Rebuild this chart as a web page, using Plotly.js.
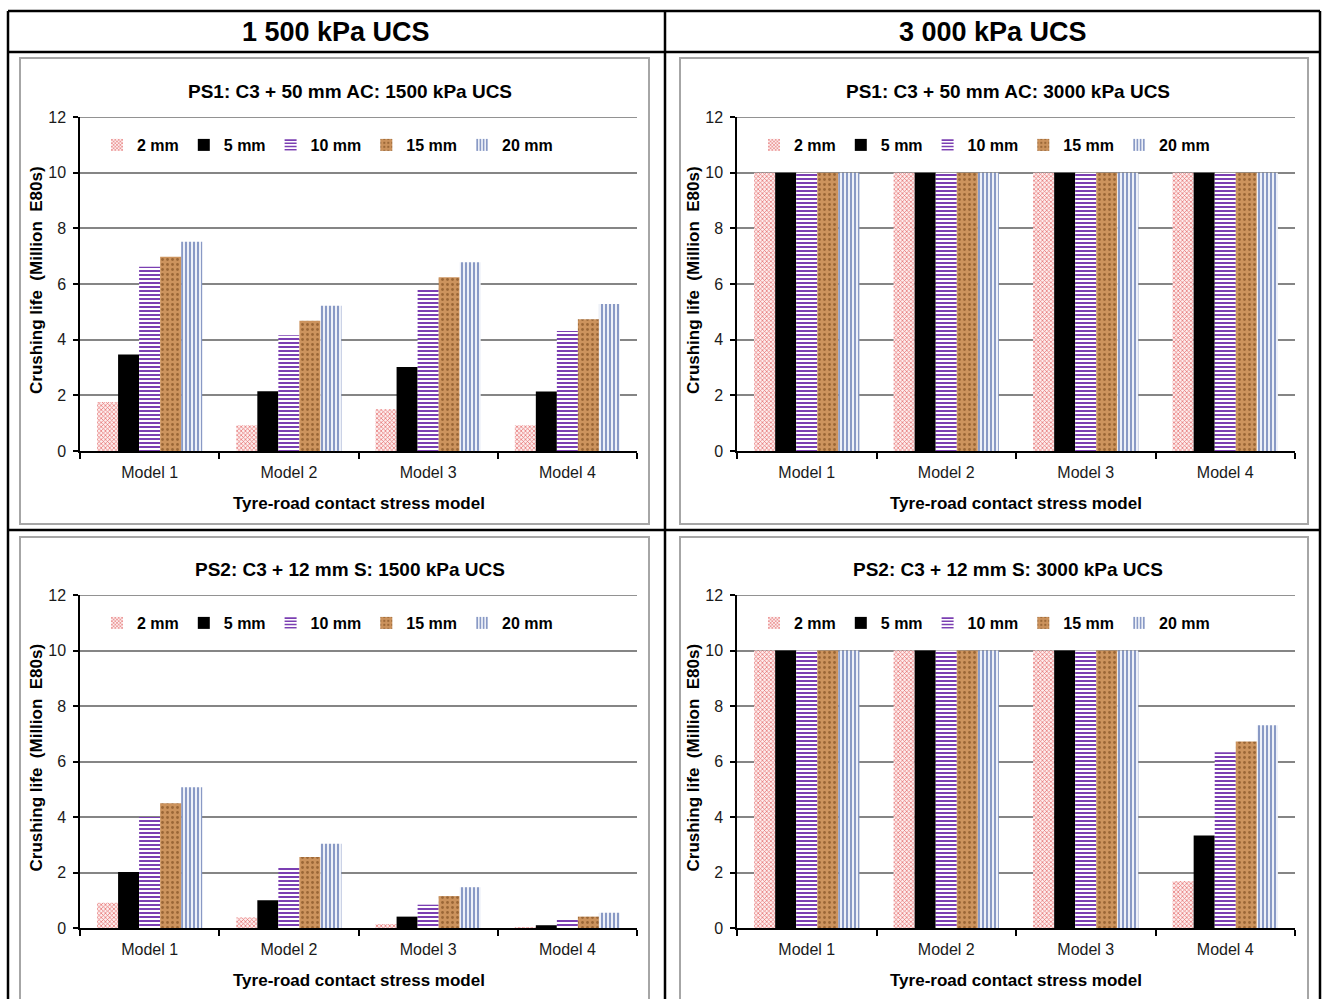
<!DOCTYPE html>
<html>
<head>
<meta charset="utf-8">
<script src="https://cdn.plot.ly/plotly-3.0.1.min.js"></script>
<style>
  html, body { margin: 0; padding: 0; background: #ffffff; }
  #chart { width: 1324px; height: 999px; }
</style>
</head>
<body>
<div id="chart"></div>
<script>
// Tyre-road contact stress models (categories)
const models = ['Model 1', 'Model 2', 'Model 3', 'Model 4'];
// Crushing-depth series
const seriesNames = ['2 mm', '5 mm', '10 mm', '15 mm', '20 mm'];
const yTicks = [0, 2, 4, 6, 8, 10, 12];

// PS1: C3 + 50 mm AC, 1500 kPa UCS  (million E80s)
const ps1_1500_2mm  = [1.76, 0.92, 1.50, 0.92];
const ps1_1500_5mm  = [3.47, 2.15, 3.02, 2.14];
const ps1_1500_10mm = [6.62, 4.16, 5.78, 4.31];
const ps1_1500_15mm = [6.98, 4.68, 6.24, 4.73];
const ps1_1500_20mm = [7.52, 5.22, 6.78, 5.28];

// PS1: C3 + 50 mm AC, 3000 kPa UCS
const ps1_3000_2mm  = [10, 10, 10, 10];
const ps1_3000_5mm  = [10, 10, 10, 10];
const ps1_3000_10mm = [10, 10, 10, 10];
const ps1_3000_15mm = [10, 10, 10, 10];
const ps1_3000_20mm = [10, 10, 10, 10];

// PS2: C3 + 12 mm S, 1500 kPa UCS
const ps2_1500_2mm  = [0.91, 0.38, 0.14, 0.02];
const ps2_1500_5mm  = [2.02, 1.00, 0.41, 0.10];
const ps2_1500_10mm = [4.00, 2.18, 0.84, 0.29];
const ps2_1500_15mm = [4.50, 2.56, 1.15, 0.41];
const ps2_1500_20mm = [5.07, 3.04, 1.47, 0.55];

// PS2: C3 + 12 mm S, 3000 kPa UCS
const ps2_3000_2mm  = [10, 10, 10, 1.69];
const ps2_3000_5mm  = [10, 10, 10, 3.33];
const ps2_3000_10mm = [10, 10, 10, 6.33];
const ps2_3000_15mm = [10, 10, 10, 6.72];
const ps2_3000_20mm = [10, 10, 10, 7.31];

// Column headers and chart titles
const columnHeaders = ['1 500 kPa UCS', '3 000 kPa UCS'];
const chartTitles = [
  'PS1: C3 + 50 mm AC: 1500 kPa UCS',
  'PS1: C3 + 50 mm AC: 3000 kPa UCS',
  'PS2: C3 + 12 mm S: 1500 kPa UCS',
  'PS2: C3 + 12 mm S: 3000 kPa UCS'
];
const xTitle = 'Tyre-road contact stress model';
const yTitle = 'Crushing life  (Million  E80s)';

const chartData = [
  [ps1_1500_2mm, ps1_1500_5mm, ps1_1500_10mm, ps1_1500_15mm, ps1_1500_20mm],
  [ps1_3000_2mm, ps1_3000_5mm, ps1_3000_10mm, ps1_3000_15mm, ps1_3000_20mm],
  [ps2_1500_2mm, ps2_1500_5mm, ps2_1500_10mm, ps2_1500_15mm, ps2_1500_20mm],
  [ps2_3000_2mm, ps2_3000_5mm, ps2_3000_10mm, ps2_3000_15mm, ps2_3000_20mm]
];

// ---- page geometry (pixels) ----
const W = 1324, H = 999;
const px = x => x / W;
const py = y => 1 - y / H;

const FONT = '"Liberation Sans", Arial, sans-serif';

// Plot areas: [left, right, top, bottom]
const plotBoxes = [
  [80, 637, 117, 451],
  [737, 1295, 117, 451],
  [80, 637, 595, 928],
  [737, 1295, 595, 928]
];
// Chart frames: [left, right, top, bottom]
const frames = [
  [20, 649, 58, 524],
  [680, 1308, 58, 524],
  [20, 649, 537, 1010],
  [680, 1308, 537, 1010]
];

// Fill style per series
const seriesStyles = [
  { shape: 'x', fgcolor: '#e36a6a', bgcolor: '#fdeeee', size: 3, solidity: 0.4 },
  null,
  { shape: '-', fgcolor: '#7b3fb2', bgcolor: '#ffffff', size: 4, solidity: 0.5 },
  { shape: '.', fgcolor: '#9a6636', bgcolor: '#cc935d', size: 5, solidity: 0.25 },
  { shape: '|', fgcolor: '#7e90c0', bgcolor: '#eef1f8', size: 4, solidity: 0.45 }
];

const traces = [];
const layout = {
  width: W, height: H,
  margin: { l: 0, r: 0, t: 0, b: 0 },
  paper_bgcolor: '#ffffff',
  plot_bgcolor: '#ffffff',
  barmode: 'group',
  bargap: 0.245,
  bargroupgap: 0,
  font: { family: FONT, color: '#000000', size: 16 },
  shapes: [],
  annotations: []
};

chartData.forEach((series, c) => {
  const n = c + 1;
  const sfx = n === 1 ? '' : String(n);
  const xa = 'x' + sfx;
  const ya = 'y' + sfx;
  const legendId = 'legend' + sfx;
  const [l, r, t, b] = plotBoxes[c];

  series.forEach((vals, s) => {
    const st = seriesStyles[s];
    const marker = st
      ? { color: st.bgcolor, line: { width: 0 },
          pattern: { shape: st.shape, fgcolor: st.fgcolor, bgcolor: st.bgcolor, size: st.size, solidity: st.solidity } }
      : { color: '#000000', line: { width: 0 } };
    traces.push({
      type: 'bar',
      x: models,
      y: vals,
      name: seriesNames[s],
      xaxis: xa,
      yaxis: ya,
      legend: legendId,
      marker: marker,
      hoverinfo: 'x+y+name'
    });
  });

  layout['xaxis' + sfx] = {
    domain: [px(l), px(r)],
    anchor: ya,
    type: 'category',
    showline: true, linecolor: '#000000', linewidth: 1.5,
    ticks: 'outside', tickson: 'boundaries', ticklen: 6, tickcolor: '#000000', tickwidth: 1.5,
    ticklabelstandoff: 6,
    showgrid: false, zeroline: false,
    tickfont: { family: FONT, size: 16, color: '#1a1a1a' },
    fixedrange: true
  };
  layout['yaxis' + sfx] = {
    domain: [py(b), py(t)],
    anchor: xa,
    range: [0, 12],
    tickvals: yTicks,
    showline: true, linecolor: '#000000', linewidth: 1.5,
    ticks: 'outside', ticklen: 5, tickcolor: '#000000', tickwidth: 1.5,
    ticklabelstandoff: 4,
    showgrid: true, gridcolor: '#858585', gridwidth: 1.5,
    zeroline: false,
    tickfont: { family: FONT, size: 16, color: '#1a1a1a' },
    fixedrange: true
  };
  layout[legendId] = {
    orientation: 'h',
    x: px(l + 17), y: py(t + 28),
    xanchor: 'left', yanchor: 'middle',
    bgcolor: 'rgba(0,0,0,0)',
    font: { family: FONT, size: 16, color: '#000000', weight: 'bold' },
    itemwidth: 30,
    traceorder: 'normal'
  };

  // top gridline at 12
  layout.shapes.push({
    type: 'line', xref: xa + ' domain', yref: ya,
    x0: 0, x1: 1, y0: 12, y1: 12,
    line: { color: '#6e6e6e', width: 1.5 }
  });

  // chart frame
  const [fl, fr, ft, fb] = frames[c];
  layout.shapes.push({
    type: 'rect', xref: 'paper', yref: 'paper',
    x0: px(fl), x1: px(fr), y0: py(fb), y1: py(ft),
    line: { color: '#a6a6a6', width: 2 }, layer: 'below'
  });

  // chart title
  layout.annotations.push({
    xref: 'paper', yref: 'paper', x: px((l + r) / 2 - 8), y: py(t - 26),
    text: '<b>' + chartTitles[c] + '</b>', showarrow: false,
    xanchor: 'center', yanchor: 'middle',
    font: { family: FONT, size: 19, color: '#000000' }
  });
  // x-axis title
  layout.annotations.push({
    xref: 'paper', yref: 'paper', x: px((l + r) / 2), y: py(b + 52),
    text: '<b>' + xTitle + '</b>', showarrow: false,
    xanchor: 'center', yanchor: 'middle',
    font: { family: FONT, size: 17, color: '#000000' }
  });
  // y-axis title
  layout.annotations.push({
    xref: 'paper', yref: 'paper', x: px(l - 44), y: py((t + b) / 2 - 4),
    text: '<b>' + yTitle + '</b>', showarrow: false, textangle: -90,
    xanchor: 'center', yanchor: 'middle',
    font: { family: FONT, size: 17, color: '#000000' }
  });
});

// table rules
const tableLines = [
  [8, 11, 1320, 11], [8, 52, 1320, 52], [8, 530, 1320, 530],
  [8, 11, 8, 999], [665, 11, 665, 999], [1320, 11, 1320, 999]
];
tableLines.forEach(([x0, y0, x1, y1]) => {
  layout.shapes.push({
    type: 'line', xref: 'paper', yref: 'paper',
    x0: px(x0), y0: py(y0), x1: px(x1), y1: py(y1),
    line: { color: '#000000', width: 2.5 }
  });
});

// column headers
[336, 993].forEach((cx, i) => {
  layout.annotations.push({
    xref: 'paper', yref: 'paper', x: px(cx), y: py(32),
    text: '<b>' + columnHeaders[i] + '</b>', showarrow: false,
    xanchor: 'center', yanchor: 'middle',
    font: { family: FONT, size: 27, color: '#000000' }
  });
});

Plotly.newPlot('chart', traces, layout, { displayModeBar: false });
</script>
</body>
</html>
